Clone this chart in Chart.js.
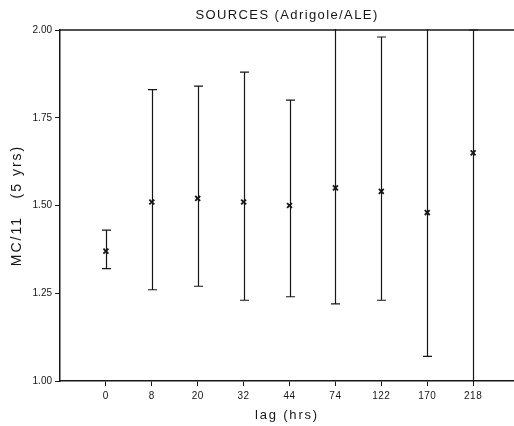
<!DOCTYPE html>
<html><head><meta charset="utf-8">
<script src="https://cdn.jsdelivr.net/npm/chart.js@4"></script>
<style>html,body{margin:0;padding:0;background:#fff}#wrap{width:514px;height:426px}</style>
</head><body><div id="wrap"><canvas id="c" width="514" height="426"></canvas></div>
<script>
const lags = ['0','8','20','32','44','74','122','170','218'];
const means = [1.37, 1.51, 1.52, 1.51, 1.50, 1.55, 1.54, 1.48, 1.65];
const upper = [1.43, 1.83, 1.84, 1.88, 1.80, 2.05, 1.98, 2.05, 2.00];
const lower = [1.32, 1.26, 1.27, 1.23, 1.24, 1.22, 1.23, 1.07, 0.95];
const yTicks = [1.00, 1.25, 1.50, 1.75, 2.00];

const INK = '#161616';
const FONT = "'Liberation Sans', Arial, sans-serif";

function wrapSpacing(chart, obj, name, ls) {
  if (!obj || obj['__ls_' + name]) return;
  const orig = obj[name];
  obj[name] = function (...args) {
    const c = chart.ctx;
    const prev = c.letterSpacing;
    c.letterSpacing = ls;
    try { return orig.apply(this, args); } finally { c.letterSpacing = prev; }
  };
  obj['__ls_' + name] = true;
}

const errorBars = {
  id: 'errorBars',
  beforeDraw(chart) {
    wrapSpacing(chart, chart.titleBlock, 'draw', '1.4px');
    wrapSpacing(chart, chart.scales.x, 'drawTitle', '1.8px');
    wrapSpacing(chart, chart.scales.y, 'drawTitle', '2px');
    wrapSpacing(chart, chart.scales.x, 'drawLabels', '0.5px');
  },
  beforeDatasetsDraw(chart) {
    const {ctx, chartArea: a, scales: {x, y}} = chart;
    ctx.save();
    ctx.beginPath();
    ctx.rect(a.left, a.top - 1, a.right - a.left, a.bottom - a.top + 2);
    ctx.clip();
    ctx.strokeStyle = INK;
    ctx.lineWidth = 1.2;
    means.forEach((m, i) => {
      const px = Math.round(x.getPixelForValue(i)) + 0.5;
      const pu = y.getPixelForValue(upper[i]);
      const pl = y.getPixelForValue(lower[i]);
      ctx.beginPath();
      ctx.moveTo(px, pu);
      ctx.lineTo(px, pl);
      if (upper[i] <= y.max) { ctx.moveTo(px - 4.5, pu); ctx.lineTo(px + 4.5, pu); }
      if (lower[i] >= y.min) { ctx.moveTo(px - 4.5, pl); ctx.lineTo(px + 4.5, pl); }
      ctx.stroke();
    });
    ctx.restore();
  },
  afterDraw(chart) {
    const {ctx, chartArea: a} = chart;
    ctx.save();
    ctx.strokeStyle = INK;
    ctx.lineWidth = 1.5;
    ctx.beginPath();
    ctx.moveTo(a.left, a.top);
    ctx.lineTo(a.right, a.top);
    ctx.stroke();
    ctx.restore();
  }
};

new Chart(document.getElementById('c'), {
  type: 'scatter',
  data: {
    datasets: [{
      data: means.map((m, i) => ({x: i, y: m})),
      pointStyle: 'crossRot',
      pointRadius: 3.5,
      pointHoverRadius: 3.5,
      borderColor: INK,
      backgroundColor: INK,
      borderWidth: 1.8,
      showLine: false
    }]
  },
  options: {
    responsive: false,
    animation: false,
    devicePixelRatio: 1,
    layout: {padding: 0, autoPadding: false},
    plugins: {
      legend: {display: false},
      tooltip: {enabled: false},
      title: {
        display: true,
        fullSize: false,
        text: 'SOURCES (Adrigole/ALE)',
        color: INK,
        font: {family: FONT, size: 13, weight: 'normal'},
        padding: {top: 8, bottom: 6.4}
      }
    },
    scales: {
      x: {
        type: 'linear',
        min: -1,
        max: 8.89,
        afterBuildTicks: s => { s.ticks = lags.map((_, i) => ({value: i})); },
        afterFit: s => { s.height = 45; s.paddingLeft = 0; s.paddingRight = 0; },
        ticks: {
          callback: v => lags[v],
          color: INK,
          font: {family: FONT, size: 10},
          padding: 4,
          maxRotation: 0,
          autoSkip: false
        },
        grid: {drawOnChartArea: false, drawTicks: true, tickLength: 5, color: INK, lineWidth: 1},
        border: {display: true, color: INK, width: 1.5},
        title: {
          display: true,
          text: 'lag (hrs)',
          color: INK,
          font: {family: FONT, size: 13},
          padding: {top: 0, bottom: 3}
        }
      },
      y: {
        min: 1,
        max: 2,
        afterBuildTicks: s => { s.ticks = yTicks.map(v => ({value: v})); },
        afterFit: s => { s.width = 60; s.paddingTop = 0; s.paddingBottom = 0; },
        ticks: {
          callback: v => v.toFixed(2),
          color: INK,
          font: {family: FONT, size: 10},
          padding: 3
        },
        grid: {drawOnChartArea: false, drawTicks: true, tickLength: 5, color: INK, lineWidth: 1},
        border: {display: true, color: INK, width: 1.5},
        title: {
          display: true,
          text: 'MC/11   (5 yrs)',
          color: INK,
          font: {family: FONT, size: 14},
          padding: {top: 9, bottom: 0}
        }
      }
    }
  },
  plugins: [errorBars]
});
</script>
</body></html>
